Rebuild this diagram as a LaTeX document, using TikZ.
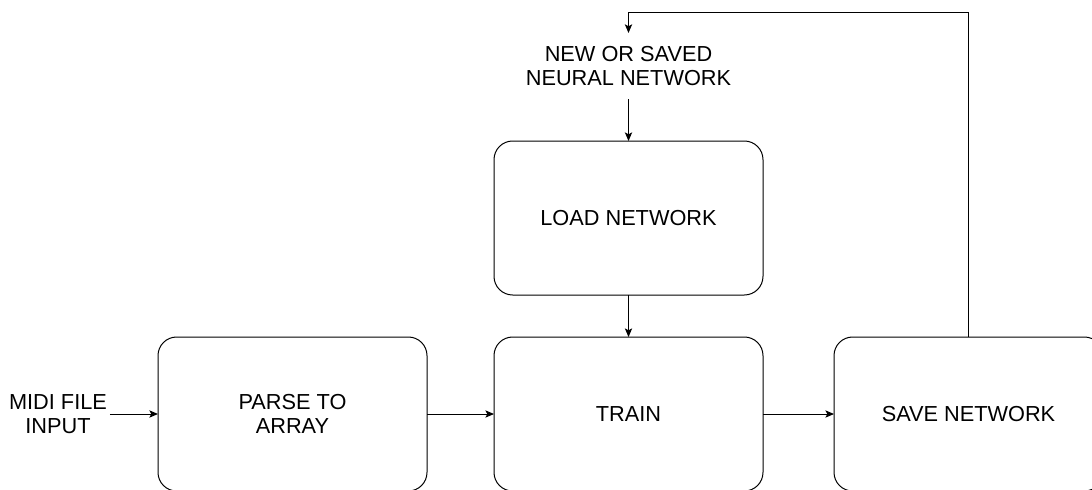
\documentclass[tikz,border=0pt]{standalone}
\usepackage{fontspec}
\setmainfont{Liberation Sans}
\usetikzlibrary{arrows.meta}
\begin{document}
\begin{tikzpicture}[x=0.75pt,y=-0.75pt,
  box/.style={draw, line width=0.75pt, rounded corners=14pt, minimum width=201.75pt, minimum height=115.5pt, align=center, font=\fontsize{16.3}{18}\selectfont, inner sep=0pt, outer sep=0pt},
  lbl/.style={align=center, font=\fontsize{16.3}{18}\selectfont, outer sep=0pt},
  arr/.style={-{Stealth[length=6.5pt,width=5.5pt,inset=1.5pt]}, line width=0.75pt}]
\useasboundingbox (0,0) rectangle (1092,489);
\clip (0,0) rectangle (1092,489);
\node[lbl, inner sep=2.25pt] (midi) at (58,414) {MIDI FILE\\INPUT};
\node[box] (parse) at (292.5,414) {PARSE TO\\ARRAY};
\node[box] (train) at (628.5,414) {TRAIN};
\node[box] (save) at (968.5,414) {SAVE NETWORK};
\node[box] (load) at (628.5,218) {LOAD NETWORK};
\node[lbl, inner sep=10pt] (nn) at (628.5,66) {NEW OR SAVED\\NEURAL NETWORK};
\coordinate (top) at (968.5,12);
\draw[arr] (midi.east) -- (parse.west);
\draw[arr] (parse.east) -- (train.west);
\draw[arr] (train.east) -- (save.west);
\draw[arr] (load.south) -- (train.north);
\draw[arr] (nn.south) -- (load.north);
\draw[arr] (save.north) -- (top) -| (nn.north);
\end{tikzpicture}
\end{document}
